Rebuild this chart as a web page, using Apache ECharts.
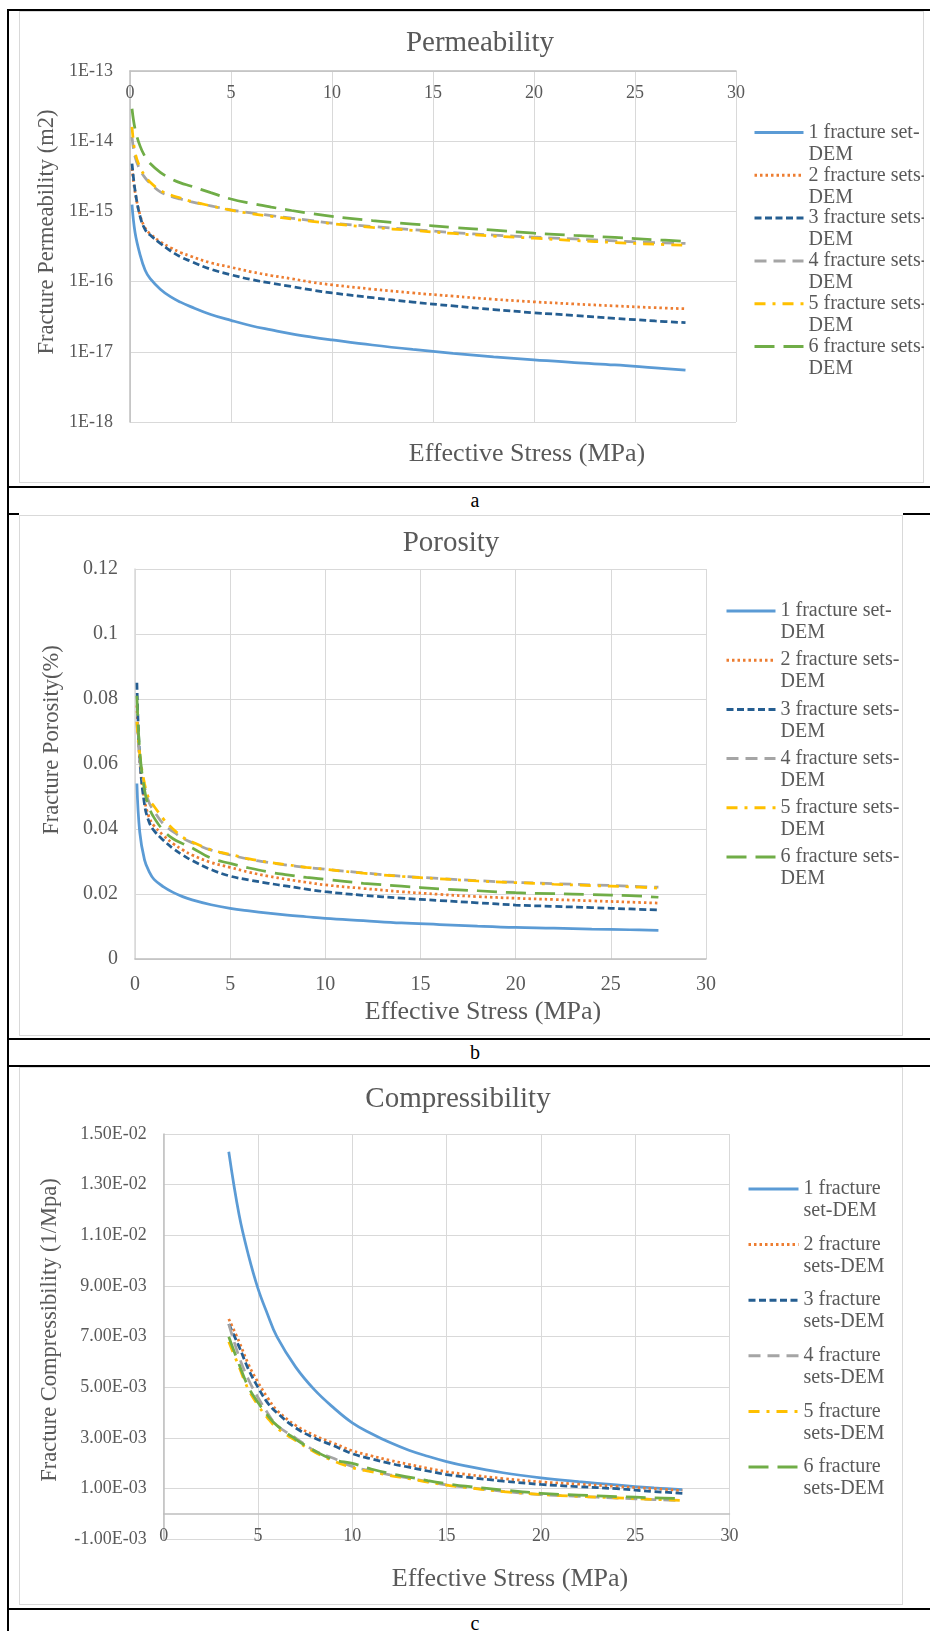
<!DOCTYPE html>
<html>
<head>
<meta charset="utf-8">
<title>Fracture properties vs effective stress</title>
<script src="https://cdn.jsdelivr.net/npm/echarts@6/dist/echarts.min.js"></script>
<style>
  html, body { margin: 0; padding: 0; background: #fff; }
  #page { position: relative; width: 930px; height: 1631px; overflow: hidden; }
  .rule { position: absolute; background: #000; }
  .frame { position: absolute; border: 1px solid #d9d9d9; box-sizing: border-box; background: #fff; }
  .chart { position: absolute; }
  .cap { position: absolute; left: 455px; width: 40px; text-align: center; font: 20px "Liberation Serif", serif; line-height: 20px; color: #000; }
</style>
</head>
<body>
<div id="page">
  <div class="rule" style="left:7px;top:9px;width:923px;height:2px"></div>
  <div class="rule" style="left:7px;top:9px;width:2px;height:1622px"></div>
  <div class="rule" style="left:7px;top:486px;width:923px;height:2px"></div>
  <div class="rule" style="left:7px;top:513px;width:12px;height:2px"></div>
  <div class="rule" style="left:903px;top:513px;width:27px;height:2px"></div>
  <div class="rule" style="left:7px;top:1038px;width:923px;height:2px"></div>
  <div class="rule" style="left:7px;top:1065px;width:923px;height:2px"></div>
  <div class="rule" style="left:7px;top:1608px;width:923px;height:2px"></div>

  <div class="frame" style="left:19px;top:11px;width:905px;height:472px"></div>
  <div class="frame" style="left:19px;top:515px;width:884px;height:521px"></div>
  <div class="frame" style="left:19px;top:1067px;width:884px;height:538px"></div>

  <div id="permChart" class="chart" style="left:19px;top:11px;width:905px;height:472px"></div>
  <div id="poroChart" class="chart" style="left:19px;top:515px;width:884px;height:521px"></div>
  <div id="compChart" class="chart" style="left:19px;top:1067px;width:884px;height:538px"></div>

  <div class="cap" style="top:490px">a</div>
  <div class="cap" style="top:1042px">b</div>
  <div class="cap" style="top:1613px">c</div>
</div>

<script>
// ---- data ----
const SET_NAMES = ['1 fracture set-DEM', '2 fracture sets-DEM', '3 fracture sets-DEM',
                   '4 fracture sets-DEM', '5 fracture sets-DEM', '6 fracture sets-DEM']

// a: permeability (m2)
const STRESS_PERM = [0.1, 0.25, 0.5, 0.75, 1, 1.5, 2, 2.5, 3, 4, 5, 6, 7, 8, 9, 10, 12, 14, 16, 18, 20, 22, 24, 26, 27.5]
const PERM_1 = [1.25e-15, 5.0e-16, 2.4e-16, 1.45e-16, 1.1e-16, 7.8e-17, 6.1e-17, 5.1e-17, 4.4e-17, 3.4e-17, 2.8e-17, 2.35e-17, 2.05e-17, 1.8e-17, 1.62e-17, 1.48e-17, 1.25e-17, 1.08e-17, 9.5e-18, 8.5e-18, 7.7e-18, 7.0e-18, 6.5e-18, 5.9e-18, 5.5e-18]
const PERM_2 = [4.1e-15, 1.9e-15, 8.8e-16, 5.8e-16, 4.8e-16, 3.7e-16, 3.05e-16, 2.6e-16, 2.3e-16, 1.85e-16, 1.6e-16, 1.38e-16, 1.22e-16, 1.1e-16, 9.8e-17, 9.0e-17, 7.8e-17, 6.9e-17, 6.2e-17, 5.6e-17, 5.15e-17, 4.8e-17, 4.5e-17, 4.25e-17, 4.1e-17]
const PERM_3 = [4.8e-15, 2.0e-15, 8.5e-16, 5.5e-16, 4.6e-16, 3.5e-16, 2.75e-16, 2.25e-16, 1.95e-16, 1.5e-16, 1.25e-16, 1.07e-16, 9.5e-17, 8.5e-17, 7.6e-17, 6.9e-17, 5.9e-17, 5.1e-17, 4.5e-17, 4.0e-17, 3.6e-17, 3.3e-17, 3.0e-17, 2.75e-17, 2.6e-17]
const PERM_4 = [1.15e-14, 6.0e-15, 3.9e-15, 3.0e-15, 2.5e-15, 1.9e-15, 1.65e-15, 1.5e-15, 1.38e-15, 1.2e-15, 1.05e-15, 9.5e-16, 8.7e-16, 8.0e-16, 7.4e-16, 6.8e-16, 6.1e-16, 5.5e-16, 5.0e-16, 4.6e-16, 4.3e-16, 4.05e-16, 3.8e-16, 3.6e-16, 3.5e-16]
const PERM_5 = [1.6e-14, 7.0e-15, 4.2e-15, 3.2e-15, 2.6e-15, 2.0e-15, 1.72e-15, 1.55e-15, 1.4e-15, 1.2e-15, 1.04e-15, 9.3e-16, 8.5e-16, 7.8e-16, 7.2e-16, 6.7e-16, 5.9e-16, 5.35e-16, 4.85e-16, 4.45e-16, 4.15e-16, 3.85e-16, 3.6e-16, 3.4e-16, 3.3e-16]
const PERM_6 = [2.9e-14, 1.5e-14, 8.5e-15, 6.0e-15, 4.8e-15, 3.6e-15, 2.95e-15, 2.55e-15, 2.3e-15, 1.85e-15, 1.5e-15, 1.3e-15, 1.15e-15, 1.03e-15, 9.3e-16, 8.5e-16, 7.4e-16, 6.6e-16, 5.9e-16, 5.4e-16, 4.9e-16, 4.55e-16, 4.25e-16, 3.95e-16, 3.75e-16]
const PERM_TICKS = ['1E-13', '1E-14', '1E-15', '1E-16', '1E-17', '1E-18']

// b: porosity
const STRESS_PORO = [0.1, 0.25, 0.5, 0.75, 1, 1.5, 2, 2.5, 3, 4, 5, 6, 7, 8, 9, 10, 12, 14, 16, 18, 20, 22, 24, 26, 27.5]
const PORO_1 = [0.054, 0.039, 0.0305, 0.0268, 0.0245, 0.0222, 0.0205, 0.0192, 0.0182, 0.0167, 0.0156, 0.0148, 0.0141, 0.0135, 0.013, 0.0125, 0.0118, 0.0111, 0.0106, 0.0101, 0.0097, 0.0095, 0.0092, 0.009, 0.0088]
const PORO_2 = [0.078, 0.061, 0.049, 0.0435, 0.041, 0.038, 0.0355, 0.0336, 0.032, 0.0297, 0.0282, 0.0267, 0.0255, 0.0245, 0.0236, 0.0228, 0.0217, 0.0207, 0.0199, 0.0192, 0.0187, 0.0183, 0.0179, 0.0175, 0.0172]
const PORO_3 = [0.085, 0.062, 0.0475, 0.042, 0.0395, 0.0365, 0.034, 0.032, 0.0303, 0.0275, 0.0255, 0.0243, 0.0233, 0.0224, 0.0215, 0.0207, 0.0196, 0.0187, 0.018, 0.0173, 0.0166, 0.0162, 0.0158, 0.0154, 0.0151]
const PORO_4 = [0.073, 0.062, 0.053, 0.048, 0.0455, 0.0415, 0.0392, 0.0372, 0.0358, 0.0335, 0.032, 0.0307, 0.0297, 0.0289, 0.0282, 0.0276, 0.0265, 0.0255, 0.0248, 0.0241, 0.0236, 0.0232, 0.0228, 0.0224, 0.0221]
const PORO_5 = [0.073, 0.063, 0.054, 0.049, 0.047, 0.043, 0.040, 0.0375, 0.036, 0.0336, 0.0322, 0.0308, 0.0298, 0.029, 0.0282, 0.0276, 0.0264, 0.0254, 0.0247, 0.024, 0.0235, 0.023, 0.0226, 0.0222, 0.0218]
const PORO_6 = [0.081, 0.064, 0.052, 0.0465, 0.0435, 0.0395, 0.037, 0.0355, 0.0342, 0.031, 0.0294, 0.028, 0.0268, 0.0259, 0.0251, 0.0245, 0.0233, 0.0224, 0.0216, 0.021, 0.0204, 0.0201, 0.0198, 0.0195, 0.019]

// c: compressibility (1/MPa)
const STRESS_COMP = [3.45, 4, 4.5, 5, 5.5, 6, 7, 8, 9, 10, 11, 12, 13, 14, 15, 16, 18, 20, 22, 24, 26, 27.5]
const COMP_1 = [0.0143, 0.0118, 0.0102, 0.0089, 0.0079, 0.0070, 0.0058, 0.0049, 0.0042, 0.0036, 0.00318, 0.00282, 0.00252, 0.00228, 0.00207, 0.0019, 0.00163, 0.00143, 0.00128, 0.00115, 0.00103, 0.00096]
const COMP_2 = [0.0077, 0.0068, 0.0059, 0.0052, 0.0046, 0.0041, 0.0035, 0.0031, 0.0028, 0.0025, 0.0023, 0.00212, 0.00196, 0.00181, 0.00167, 0.00157, 0.0014, 0.00127, 0.00118, 0.00109, 0.001, 0.00093]
const COMP_3 = [0.0075, 0.0066, 0.0057, 0.0050, 0.0044, 0.0040, 0.0034, 0.0030, 0.0027, 0.00238, 0.00218, 0.002, 0.00185, 0.0017, 0.00156, 0.00146, 0.0013, 0.00117, 0.00108, 0.001, 0.00089, 0.00082]
const COMP_4 = [0.0075, 0.0062, 0.0053, 0.0046, 0.0040, 0.0035, 0.0030, 0.0025, 0.0022, 0.00188, 0.0017, 0.00155, 0.00142, 0.00128, 0.00115, 0.00106, 0.0009, 0.00077, 0.0007, 0.00063, 0.00057, 0.00053]
const COMP_5 = [0.0068, 0.0058, 0.0049, 0.0043, 0.0038, 0.0034, 0.0029, 0.00245, 0.0021, 0.00183, 0.00167, 0.00152, 0.0014, 0.00126, 0.00114, 0.00105, 0.00089, 0.00077, 0.0007, 0.00064, 0.00058, 0.00054]
const COMP_6 = [0.0070, 0.0059, 0.0050, 0.0044, 0.0039, 0.0035, 0.00295, 0.0025, 0.00215, 0.002, 0.00178, 0.0016, 0.00146, 0.00132, 0.0012, 0.0011, 0.00095, 0.00082, 0.00075, 0.00069, 0.00064, 0.00061]

// ---- styling ----
const TEXT = '#595959'
const GRID_LINE = '#d9d9d9'
const AXIS_LINE = '#bfbfbf'
const FONT = 'Liberation Serif'
const LINE_STYLES = [
  { color: '#5b9bd5', type: 'solid' },
  { color: '#ed7d31', type: [2.5, 3] },
  { color: '#255e91', type: [7, 3.5] },
  { color: '#a5a5a5', type: [12, 7] },
  { color: '#ffc000', type: [11, 7, 3, 7] },
  { color: '#70ad47', type: [20, 9] },
]

function buildSeries(xs, sets) {
  return sets.map((ys, i) => ({
    name: SET_NAMES[i],
    type: 'line',
    data: xs.map((x, j) => [x, ys[j]]),
    symbol: 'none',
    smooth: 0.4,
    lineStyle: { color: LINE_STYLES[i].color, type: LINE_STYLES[i].type, width: 2.75 },
    itemStyle: { color: LINE_STYLES[i].color },
  }))
}

// one legend per entry so the swatch sits on the first text line
function buildLegends(left, firstLine, step, itemWidth, splitText) {
  return SET_NAMES.map((n, i) => ({
    data: [n],
    left, top: firstLine + i * step - 33,
    orient: 'vertical', padding: 0,
    itemWidth, itemHeight: 14,
    selectedMode: false,
    itemStyle: { opacity: 0, borderWidth: 0 },
    lineStyle: { width: 3 },
    formatter: name => '\n' + splitText(name),
    textStyle: { color: TEXT, fontFamily: FONT, fontSize: 20, lineHeight: 22 },
  }))
}

function text(str, x, y, size, vertical) {
  return {
    type: 'text', x, y, rotation: vertical ? Math.PI / 2 : 0, silent: true,
    style: { text: str, fill: TEXT, font: size + 'px "Liberation Serif"',
             align: 'center', verticalAlign: 'middle' },
  }
}

function valueXAxis(extra) {
  return Object.assign({
    type: 'value', min: 0, max: 30, interval: 5,
    axisTick: { show: false },
    axisLine: { show: true, lineStyle: { color: AXIS_LINE, width: 1.5 } },
    splitLine: { show: true, lineStyle: { color: GRID_LINE, width: 1 } },
  }, extra)
}

const tickFont = size => ({ color: TEXT, fontFamily: FONT, fontSize: size })
const splitAtDem = name => name.replace(/-DEM$/, '-\nDEM')
const splitAtFracture = name => name.replace(' fracture ', ' fracture\n')

function sciLabel(v) {
  const parts = v.toExponential(2).split('e')
  const e = parseInt(parts[1], 10)
  return parts[0] + 'E' + (e < 0 ? '-' : '+') + String(Math.abs(e)).padStart(2, '0')
}

// ---- a: permeability ----
const permChart = echarts.init(document.getElementById('permChart'), null, { renderer: 'canvas' })
permChart.setOption({
  animation: false,
  grid: { left: 111, top: 60, width: 606, height: 351 },
  xAxis: valueXAxis({
    position: 'top',
    axisLine: { show: true, onZero: false, lineStyle: { color: AXIS_LINE, width: 1.5 } },
    axisLabel: Object.assign({ inside: true, margin: 13 }, tickFont(18)),
  }),
  yAxis: {
    type: 'log', logBase: 10, min: 1e-18, max: 1e-13,
    axisTick: { show: false },
    axisLine: { show: true, lineStyle: { color: AXIS_LINE, width: 1.5 } },
    splitLine: { show: true, lineStyle: { color: GRID_LINE, width: 1 } },
    axisLabel: Object.assign({
      margin: 17,
      formatter: v => PERM_TICKS[Math.round(-13 - Math.log10(v))] || '',
    }, tickFont(18)),
  },
  legend: buildLegends(734, 121.5, 42.8, 49, splitAtDem),
  graphic: [
    text('Permeability', 461, 32, 29),
    text('Effective Stress (MPa)', 508, 443, 26),
    text('Fracture Permeability (m2)', 28.4, 221, 22.5, true),
  ],
  series: buildSeries(STRESS_PERM, [PERM_1, PERM_2, PERM_3, PERM_4, PERM_5, PERM_6]),
})

// ---- b: porosity ----
const poroChart = echarts.init(document.getElementById('poroChart'), null, { renderer: 'canvas' })
poroChart.setOption({
  animation: false,
  grid: { left: 116, top: 54, width: 571, height: 390 },
  xAxis: valueXAxis({ axisLabel: Object.assign({ margin: 16 }, tickFont(20)) }),
  yAxis: {
    type: 'value', min: 0, max: 0.12, interval: 0.02,
    axisTick: { show: false },
    axisLine: { show: true, lineStyle: { color: GRID_LINE, width: 1.5 } },
    splitLine: { show: true, lineStyle: { color: GRID_LINE, width: 1 } },
    axisLabel: Object.assign({ margin: 17 }, tickFont(20)),
  },
  legend: buildLegends(706, 96, 49.2, 49, splitAtDem),
  graphic: [
    text('Porosity', 432, 28.6, 29),
    text('Effective Stress (MPa)', 464, 497, 26),
    text('Fracture Porosity(%)', 32.6, 225, 22.5, true),
  ],
  series: buildSeries(STRESS_PORO, [PORO_1, PORO_2, PORO_3, PORO_4, PORO_5, PORO_6]),
})

// ---- c: compressibility ----
const compChart = echarts.init(document.getElementById('compChart'), null, { renderer: 'canvas' })
compChart.setOption({
  animation: false,
  grid: { left: 144.7, top: 67, width: 565.8, height: 405.4 },
  xAxis: valueXAxis({
    axisLine: { show: true, onZero: true, lineStyle: { color: AXIS_LINE, width: 1.5 } },
    // labels sit just under the zero line, above the -1E-03 gridline
    axisLabel: Object.assign({ margin: -12 }, tickFont(18)),
  }),
  yAxis: {
    type: 'value', min: -0.001, max: 0.015, interval: 0.002,
    axisTick: { show: false },
    axisLine: { show: true, lineStyle: { color: AXIS_LINE, width: 1.5 } },
    splitLine: { show: true, lineStyle: { color: GRID_LINE, width: 1 } },
    axisLabel: Object.assign({ margin: 17, formatter: sciLabel }, tickFont(18)),
  },
  legend: buildLegends(728, 122, 55.6, 50, splitAtFracture),
  graphic: [
    text('Compressibility', 439, 32.6, 29),
    text('Effective Stress (MPa)', 491, 512, 26),
    text('Fracture Compressibility (1/Mpa)', 31.4, 263, 22.5, true),
  ],
  series: buildSeries(STRESS_COMP, [COMP_1, COMP_2, COMP_3, COMP_4, COMP_5, COMP_6]),
})
</script>
</body>
</html>
